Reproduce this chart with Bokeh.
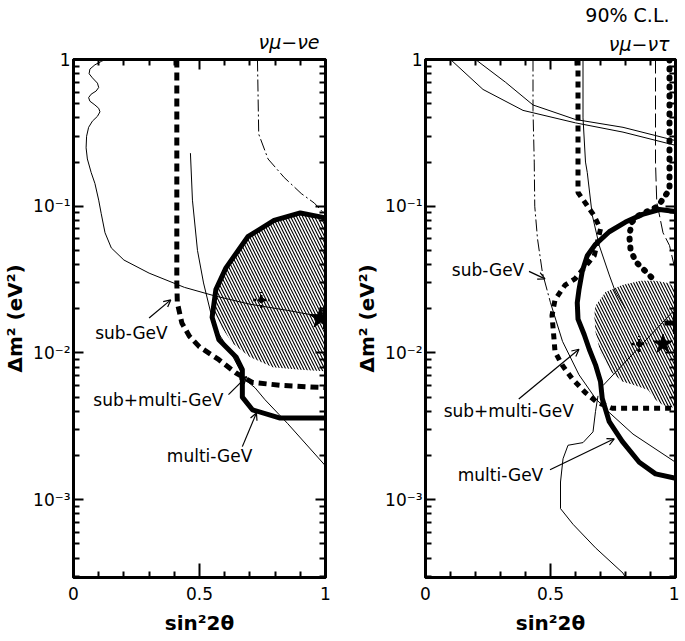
from bokeh.plotting import figure
from bokeh.layouts import row
from bokeh.models import (FixedTicker, LinearAxis, LogAxis, CustomJSTickFormatter,
                          CustomLabelingPolicy, Arrow, OpenHead, Title, Range1d)
from bokeh.core.properties import value
from bokeh.embed import file_html
from bokeh.resources import INLINE

# ---------------- axes data ----------------
x_ticks = [0, 0.5, 1]
x_tick_labels = ["0", "0.5", "1"]
x_minor = [0.1, 0.2, 0.3, 0.4, 0.6, 0.7, 0.8, 0.9]
y_ticks = [1e-3, 1e-2, 1e-1, 1]
y_minor = [k * 10.0 ** d for d in (-4, -3, -2, -1) for k in range(2, 10) if k * 10.0 ** d >= 2.95e-4]
y_min, y_max = 2.95e-4, 1.0

# ---------------- left panel: nu_mu - nu_e ----------------
Lw_x = [0.125, 0.11, 0.085, 0.065, 0.062, 0.075, 0.095, 0.10, 0.09, 0.07, 0.06, 0.065, 0.085, 0.10, 0.105, 0.095, 0.075, 0.06, 0.052, 0.05, 0.055, 0.07, 0.085, 0.10, 0.11, 0.125, 0.15, 0.20, 0.30, 0.44, 0.56, 0.70, 0.85, 0.99]
Lw_y = [1.0, 0.97, 0.92, 0.86, 0.80, 0.75, 0.69, 0.645, 0.61, 0.58, 0.55, 0.52, 0.49, 0.465, 0.44, 0.41, 0.38, 0.345, 0.30, 0.25, 0.21, 0.17, 0.143, 0.11, 0.089, 0.066, 0.052, 0.043, 0.035, 0.028, 0.0245, 0.0215, 0.0195, 0.0176]

Ldash_x = [0.41, 0.41, 0.412, 0.43, 0.46, 0.50, 0.577, 0.645, 0.71, 0.83, 1.0]
Ldash_y = [1.0, 0.03, 0.022, 0.016, 0.013, 0.011, 0.009, 0.0073, 0.0063, 0.006, 0.0058]

Lthin_x = [0.464, 0.472, 0.492, 0.516, 0.544, 0.565, 0.625, 0.68, 0.72, 0.76, 0.85, 1.0]
Lthin_y = [0.23, 0.11, 0.05, 0.030, 0.019, 0.0145, 0.010, 0.0066, 0.0058, 0.0048, 0.0033, 0.0017]

Ldd_x = [0.73, 0.735, 0.772, 0.836, 0.904, 0.956, 0.995]
Ldd_y = [1.0, 0.31, 0.21, 0.157, 0.122, 0.105, 0.089]

Lsol_x = [1.0, 0.99, 0.90, 0.796, 0.692, 0.605, 0.565, 0.55, 0.577, 0.645, 0.67, 0.67, 0.71, 0.82, 0.99, 1.0]
Lsol_y = [0.082, 0.084, 0.090, 0.080, 0.062, 0.038, 0.027, 0.0175, 0.0123, 0.0094, 0.0077, 0.0050, 0.0041, 0.0036, 0.0036, 0.0036]

Lhat_x = [0.556, 0.565, 0.605, 0.692, 0.796, 0.90, 0.99, 1.0, 1.0, 0.90, 0.79, 0.70, 0.63, 0.577]
Lhat_y = [0.019, 0.027, 0.038, 0.062, 0.080, 0.090, 0.084, 0.082, 0.0075, 0.0077, 0.0080, 0.0094, 0.0117, 0.016]

L_best_x, L_best_y = [0.745], [0.023]
L_star_x, L_star_y = [0.98], [0.0173]

L_lab_text = ["sub-GeV", "sub+multi-GeV", "multi-GeV"]
L_lab_x = [0.23, 0.337, 0.54]
L_lab_y = [0.0137, 0.0048, 0.0020]
L_arr = [(0.30, 0.0173, 0.386, 0.023), (0.615, 0.0052, 0.687, 0.0069), (0.67, 0.0023, 0.726, 0.0039)]

# ---------------- right panel: nu_mu - nu_tau ----------------
RA_x = [0.10, 0.23, 0.39, 0.60, 0.79, 1.0]
RA_y = [1.0, 0.625, 0.45, 0.37, 0.32, 0.26]
RB_x = [0.20, 0.32, 0.43, 0.60, 0.79, 1.0]
RB_y = [1.0, 0.70, 0.49, 0.39, 0.345, 0.28]

RC1_x = [0.43, 0.43, 0.435, 0.437, 0.448, 0.468, 0.50]
RC1_y = [1.0, 0.45, 0.2, 0.1, 0.06, 0.035, 0.022]
RC1b_x = [0.50, 0.548, 0.614, 0.68, 0.73, 0.83, 1.0]
RC1b_y = [0.022, 0.012, 0.0071, 0.0049, 0.0040, 0.0028, 0.0018]

RC2_x = [0.63, 0.63, 0.64, 0.647, 0.667, 0.695, 0.735, 0.76, 0.80]
RC2_y = [1.0, 0.4, 0.2, 0.17, 0.087, 0.054, 0.034, 0.026, 0.02]

RLd_x = [0.92, 0.92, 0.925, 0.95, 0.976, 1.0]
RLd_y = [1.0, 0.2, 0.107, 0.066, 0.054, 0.036]

RD1_x = [0.61, 0.61, 0.645, 0.673, 0.70, 0.675, 0.598, 0.558, 0.518, 0.506, 0.514, 0.518, 0.546, 0.586, 0.638, 0.687, 0.747, 1.0]
RD1_y = [1.0, 0.124, 0.102, 0.087, 0.070, 0.046, 0.032, 0.029, 0.023, 0.018, 0.0125, 0.0102, 0.0083, 0.0067, 0.0054, 0.0046, 0.0042, 0.0042]

RD2_x = [0.976, 0.976, 0.93, 0.85, 0.826, 0.815, 0.82, 0.84, 0.88, 0.91]
RD2_y = [1.0, 0.13, 0.10, 0.086, 0.078, 0.0635, 0.051, 0.042, 0.036, 0.032]

RS_x = [1.0, 0.936, 0.868, 0.80, 0.735, 0.68, 0.647, 0.627, 0.614, 0.607, 0.61, 0.635, 0.655, 0.68, 0.70, 0.707, 0.735, 0.787, 0.855, 0.92, 1.0]
RS_y = [0.092, 0.095, 0.088, 0.078, 0.067, 0.055, 0.046, 0.036, 0.027, 0.022, 0.017, 0.0133, 0.0106, 0.0083, 0.0064, 0.0049, 0.0034, 0.0025, 0.0018, 0.0015, 0.0014]

Rhat_x = [1.0, 1.0, 0.95, 0.92, 0.89, 0.84, 0.787, 0.74, 0.70, 0.68, 0.675, 0.68, 0.72, 0.787, 0.86, 0.92, 0.97]
Rhat_y = [0.028, 0.0042, 0.0044, 0.0048, 0.0056, 0.0060, 0.0064, 0.0075, 0.0100, 0.0139, 0.018, 0.021, 0.026, 0.029, 0.031, 0.031, 0.030]

RW_x = [0.80, 0.79, 0.68, 0.59, 0.54, 0.54, 0.55, 0.57, 0.63, 0.67, 0.68, 0.69]
RW_y = [2.95e-4, 3.16e-4, 4.7e-4, 6.8e-4, 8.7e-4, 1.32e-3, 1.9e-3, 2.35e-3, 2.45e-3, 2.9e-3, 4.0e-3, 5.1e-3]

RT_x = [0.71, 1.0]
RT_y = [0.006, 0.02]

R_best_x, R_best_y = [0.855], [0.0115]
R_star_x, R_star_y = [0.95], [0.0115]

R_lab_text = ["sub-GeV", "sub+multi-GeV", "multi-GeV"]
R_lab_x = [0.25, 0.333, 0.30]
R_lab_y = [0.037, 0.0040, 0.00148]
R_arr = [(0.414, 0.036, 0.478, 0.032), (0.373, 0.00486, 0.614, 0.0106), (0.498, 0.0016, 0.755, 0.0026)]

FONT = "DejaVu Sans"


def y_formatter():
    return CustomJSTickFormatter(code="""
        const e = Math.round(Math.log10(tick));
        if (e == 0) { return '1'; }
        const sup = {'1': '\u00b9', '2': '\u00b2', '3': '\u00b3', '4': '\u2074'};
        return '10\u207b' + sup[String(-e)];
    """)


def tick_only(axis_cls, ticks, minor):
    return axis_cls(ticker=FixedTicker(ticks=ticks, minor_ticks=minor),
                    formatter=CustomJSTickFormatter(code="return '';"),
                    major_label_policy=CustomLabelingPolicy(code="return [];"),
                    major_label_text_font_size="1px",
                    major_tick_in=10, minor_tick_in=6, major_label_standoff=0,
                    axis_label_standoff=0,
                    major_tick_out=0, minor_tick_out=0, axis_line_width=3,
                    major_tick_line_width=2, minor_tick_line_width=2)


def make_fig(border_left, border_right, frame_w):
    p = figure(frame_width=frame_w, frame_height=518, y_axis_type="log",
               x_range=Range1d(0, 1), y_range=Range1d(y_min, y_max),
               output_backend="svg", toolbar_location=None,
               min_border_left=border_left, min_border_right=border_right,
               min_border_top=56, min_border_bottom=56)
    p.grid.visible = False
    p.outline_line_color = "black"
    p.outline_line_width = 3
    p.background_fill_color = "white"
    p.border_fill_color = "white"

    xa = p.xaxis[0]
    xa.ticker = FixedTicker(ticks=x_ticks, minor_ticks=x_minor)
    xa.major_label_overrides = {t: s for t, s in zip(x_ticks, x_tick_labels)}
    ya = p.yaxis[0]
    ya.ticker = FixedTicker(ticks=y_ticks, minor_ticks=y_minor)
    ya.formatter = y_formatter()

    for ax in (xa, ya):
        ax.axis_line_width = 3
        ax.major_tick_line_width = 2
        ax.minor_tick_line_width = 2
        ax.major_tick_out = 0
        ax.minor_tick_out = 0
        ax.major_label_text_font = FONT
        ax.major_label_text_font_size = "17px"
        ax.major_label_text_color = "black"
        ax.axis_label_text_font = FONT
        ax.axis_label_text_font_style = "bold"
        ax.axis_label_text_font_size = "20px"
        ax.axis_label_text_color = "black"
    xa.major_tick_in = 14
    xa.minor_tick_in = 6
    ya.major_tick_in = 10
    ya.minor_tick_in = 6
    xa.major_label_standoff = 9
    xa.axis_label_standoff = 8
    ya.major_label_standoff = 3
    ya.axis_label_standoff = 3
    xa.axis_label = "sin\u00b22\u03b8"
    ya.axis_label = "\u0394m\u00b2 (eV\u00b2)"

    p.add_layout(tick_only(LinearAxis, x_ticks, x_minor), "above")
    p.add_layout(tick_only(LogAxis, y_ticks, y_minor), "right")
    return p


def labels_and_arrows(p, texts, xs, ys, arrows):
    p.text(x=xs, y=ys, text=texts, text_font=value(FONT), text_font_size="17px",
           text_align="center", text_baseline="middle", text_color="black")
    for (x0, y0, x1, y1) in arrows:
        p.add_layout(Arrow(end=OpenHead(size=7, line_width=1.2), x_start=x0, y_start=y0,
                           x_end=x1, y_end=y1, line_width=1.2, line_color="black"))


def style_title(t, italic, standoff):
    t.align = "right"
    t.text_font = FONT
    t.text_font_style = "italic" if italic else "normal"
    t.text_font_size = "19px"
    t.text_color = "black"
    t.standoff = standoff
    t.offset = 6


# ---------- left ----------
p1 = make_fig(65, 6, 252)
p1.title.text = "\u03bd\u03bc\u2212\u03bde"
style_title(p1.title, True, 14)

p1.patch(Lhat_x, Lhat_y, fill_color=None, line_color=None,
         hatch_pattern="\\", hatch_color="black", hatch_scale=6, hatch_weight=1.1)
p1.line(Lw_x, Lw_y, line_color="black", line_width=1)
p1.line(Lthin_x, Lthin_y, line_color="black", line_width=1)
p1.line(Ldd_x, Ldd_y, line_color="black", line_width=1, line_dash="12 3 2 3")
p1.line(Ldash_x, Ldash_y, line_color="black", line_width=5, line_dash="8 5")
p1.line(Lsol_x, Lsol_y, line_color="black", line_width=5, line_join="round")
p1.scatter(L_best_x, L_best_y, marker="cross", size=16, line_width=2.5, line_color="black", line_dash="3 2")
p1.scatter(L_best_x, L_best_y, marker="circle", size=5, fill_color="black", line_color="black")
p1.scatter(L_star_x, L_star_y, marker="star", size=22, fill_color="black", line_color="black")
p1.scatter([1.0], L_star_y, marker="cross", size=22, line_width=5, line_color="black")
labels_and_arrows(p1, L_lab_text, L_lab_x, L_lab_y, L_arr)

# ---------- right ----------
p2 = make_fig(94, 4, 250)
p2.title.text = "90% C.L."
style_title(p2.title, False, 2)
t2 = Title(text="\u03bd\u03bc\u2212\u03bd\u03c4")
style_title(t2, True, 9)
p2.add_layout(t2, "above")

p2.patch(Rhat_x, Rhat_y, fill_color=None, line_color=None,
         hatch_pattern="\\", hatch_color="black", hatch_scale=6, hatch_weight=1.1)
p2.line(RA_x, RA_y, line_color="black", line_width=1)
p2.line(RB_x, RB_y, line_color="black", line_width=1)
p2.line(RC1_x, RC1_y, line_color="black", line_width=1, line_dash="12 3 2 3")
p2.line(RC1b_x, RC1b_y, line_color="black", line_width=1)
p2.line(RC2_x, RC2_y, line_color="black", line_width=1)
p2.line(RLd_x, RLd_y, line_color="black", line_width=1, line_dash="14 4")
p2.line(RW_x, RW_y, line_color="black", line_width=1)
p2.line(RT_x, RT_y, line_color="black", line_width=1)
p2.line(RD1_x, RD1_y, line_color="black", line_width=5, line_dash="6 5")
p2.line(RD2_x, RD2_y, line_color="black", line_width=6, line_dash="1 8", line_cap="round")
p2.line(RS_x, RS_y, line_color="black", line_width=5, line_join="round")
p2.scatter(R_best_x, R_best_y, marker="cross", size=16, line_width=2.5, line_color="black", line_dash="3 2")
p2.scatter(R_best_x, R_best_y, marker="circle", size=5, fill_color="black", line_color="black")
p2.scatter(R_star_x, R_star_y, marker="star", size=20, fill_color="black", line_color="black")
p2.scatter([1.0], [0.016], marker="cross", size=22, line_width=5, line_color="black")
labels_and_arrows(p2, R_lab_text, R_lab_x, R_lab_y, R_arr)

layout = row(p1, p2)
open("out.html", "w").write(file_html(layout, INLINE))
